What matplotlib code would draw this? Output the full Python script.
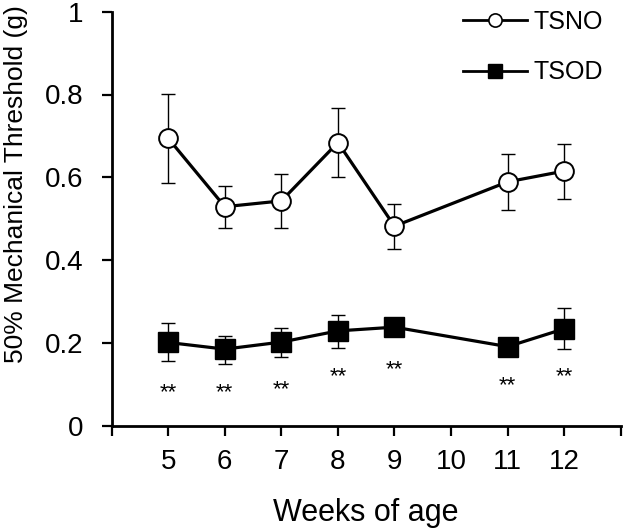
import matplotlib
matplotlib.use("Agg")
import matplotlib.pyplot as plt
from matplotlib.lines import Line2D

plt.rcParams['font.family'] = ['Liberation Sans', 'DejaVu Sans']

weeks = [5, 6, 7, 8, 9, 11, 12]
tick_weeks = [5, 6, 7, 8, 9, 10, 11, 12]
tick_labels = ['5', '6', '7', '8', '9', '10', '11', '12']

tsno_mean = [0.694, 0.529, 0.543, 0.684, 0.482, 0.589, 0.615]
tsno_err_up = [0.108, 0.050, 0.064, 0.083, 0.054, 0.067, 0.066]
tsno_err_dn = [0.108, 0.051, 0.065, 0.083, 0.055, 0.068, 0.067]

tsod_mean = [0.201, 0.185, 0.202, 0.229, 0.238, 0.191, 0.234]
tsod_err_up = [0.046, 0.032, 0.035, 0.038, 0.012, 0.012, 0.050]
tsod_err_dn = [0.045, 0.035, 0.035, 0.041, 0.012, 0.012, 0.049]

star_y = [0.096, 0.096, 0.104, 0.135, 0.152, 0.114, 0.135]

yticks = [0, 0.2, 0.4, 0.6, 0.8, 1.0]
ytick_labels = ['0', '0.2', '0.4', '0.6', '0.8', '1']

fig = plt.figure(figsize=(6.23, 5.30), dpi=100)
ax = fig.add_axes([111.7/623, 1-425.7/530, (620.7-111.7)/623, (425.7-11.7)/530])

ax.errorbar(weeks, tsno_mean, yerr=[tsno_err_dn, tsno_err_up], fmt='none',
            ecolor='black', elinewidth=1.0, capsize=5, capthick=1.0, zorder=2)
ax.plot(weeks, tsno_mean, color='black', lw=2.3, marker='o', ms=13.5,
        mfc='white', mec='black', mew=1.4, zorder=3)

ax.errorbar(weeks, tsod_mean, yerr=[tsod_err_dn, tsod_err_up], fmt='none',
            ecolor='black', elinewidth=1.0, capsize=5, capthick=1.0, zorder=2)
ax.plot(weeks, tsod_mean, color='black', lw=2.3, marker='s', ms=14.5,
        mfc='black', mec='black', mew=1.0, zorder=3)

star_fs = 16
for x, y in zip(weeks, star_y):
    ax.annotate('**', (x, y), xytext=(0, -0.57 * star_fs), textcoords='offset points',
                ha='center', va='baseline', fontsize=star_fs)

ax.set_xlim(4, 13)
ax.set_ylim(0, 1)
ax.set_xticks([4] + tick_weeks + [13])
ax.set_xticklabels([''] + tick_labels + [''])
ax.set_yticks(yticks)
ax.set_yticklabels(ytick_labels)

for s in ['top', 'right']:
    ax.spines[s].set_visible(False)
for s in ['left', 'bottom']:
    ax.spines[s].set_linewidth(2.0)
ax.tick_params(axis='both', direction='out', length=7.5, width=1.6,
               labelsize=20, colors='black')
ax.tick_params(axis='y', pad=13)
ax.tick_params(axis='x', pad=9)

ax.set_xlabel('Weeks of age', fontsize=22)
ax.xaxis.set_label_coords(0.5, -0.175)
ax.set_ylabel('50% Mechanical Threshold (g)', fontsize=19)
ax.yaxis.set_label_coords(-0.1645, 0.583)

handles = [
    Line2D([], [], color='black', lw=2.0, marker='o', ms=9.5, mfc='white', mec='black', mew=1.2),
    Line2D([], [], color='black', lw=2.0, marker='s', ms=10, mfc='black', mec='black'),
]
leg = ax.legend(handles, ['TSNO', 'TSOD'], loc='upper left',
                bbox_to_anchor=(463/623, 1-10/530), bbox_transform=fig.transFigure,
                frameon=False, fontsize=18, handlelength=2.55, handletextpad=0.25,
                labelspacing=1.05, borderpad=0, borderaxespad=0)

fig.savefig('out.png', dpi=100)
